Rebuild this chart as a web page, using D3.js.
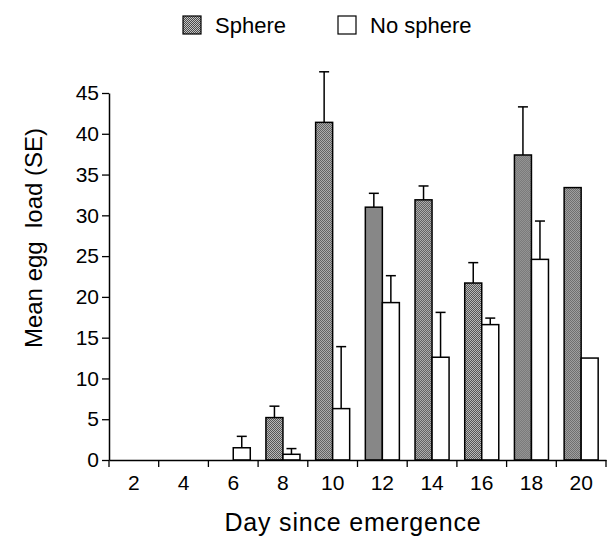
<!DOCTYPE html>
<html>
<head>
<meta charset="utf-8">
<style>
body { margin: 0; background: #fff; }
svg { font-family: "Liberation Sans", Arial, Helvetica, sans-serif; }
.axis .domain { stroke: #000; stroke-width: 1.5; }
.axis line { stroke: #000; stroke-width: 1.3; }
.axis text { font-size: 21px; fill: #000; }
</style>
</head>
<body>
<svg width="611" height="544"></svg>
<script src="https://cdn.jsdelivr.net/npm/d3@7"></script>
<script>

var days = ["2", "4", "6", "8", "10", "12", "14", "16", "18", "20"];
var series = ["Sphere", "No sphere"];
var sphereMean = [0, 0, 0, 5.2, 41.4, 31.0, 31.9, 21.7, 37.4, 33.4];
var sphereSE   = [0, 0, 0, 1.4, 6.2, 1.7, 1.7, 2.5, 5.9, 0];
var noSphereMean = [0, 0, 1.5, 0.7, 6.3, 19.3, 12.6, 16.6, 24.6, 12.5];
var noSphereSE   = [0, 0, 1.4, 0.7, 7.6, 3.3, 5.5, 0.8, 4.7, 0];
var yTicks = [0, 5, 10, 15, 20, 25, 30, 35, 40, 45];

var svg = d3.select("svg");

var defs = svg.append("defs");
var pat = defs.append("pattern")
    .attr("id", "stipple")
    .attr("patternUnits", "userSpaceOnUse")
    .attr("width", 2)
    .attr("height", 2);
pat.append("rect").attr("width", 2).attr("height", 2).attr("fill", "#c4c4c4");
pat.append("rect").attr("width", 1).attr("height", 1).attr("fill", "#4a4a4a");
pat.append("rect").attr("x", 1).attr("y", 1).attr("width", 1).attr("height", 1).attr("fill", "#4a4a4a");

var fills = {"Sphere": "url(#stipple)", "No sphere": "#fff"};

var data = days.map(function(d, i) {
  return {day: d, values: [
    {key: "Sphere", mean: sphereMean[i], se: sphereSE[i]},
    {key: "No sphere", mean: noSphereMean[i], se: noSphereSE[i]}
  ]};
});

var x0 = d3.scaleBand()
    .domain(days)
    .range([109, 606])
    .paddingInner(0)
    .paddingOuter(0);

var x1 = d3.scaleBand()
    .domain(series)
    .range([0, x0.bandwidth()])
    .paddingInner(0)
    .paddingOuter(0.46);

var y = d3.scaleLinear()
    .domain([0, 45])
    .range([460, 93]);

// bars
var groups = svg.append("g")
  .selectAll("g")
  .data(data)
  .enter().append("g")
    .attr("transform", function(d) { return "translate(" + x0(d.day) + ",0)"; });

groups.selectAll("rect")
  .data(function(d) { return d.values.filter(function(v) { return v.mean > 0; }); })
  .enter().append("rect")
    .attr("x", function(d) { return x1(d.key); })
    .attr("y", function(d) { return y(d.mean); })
    .attr("width", x1.bandwidth())
    .attr("height", function(d) { return y(0) - y(d.mean); })
    .attr("fill", function(d) { return fills[d.key]; })
    .attr("stroke", "#000")
    .attr("stroke-width", 1.5);

// error bars (upper only)
var err = groups.selectAll(".err")
  .data(function(d) { return d.values.filter(function(v) { return v.se > 0; }); })
  .enter().append("g")
    .attr("class", "err")
    .attr("stroke", "#000")
    .attr("stroke-width", 1.5);

err.append("line")
    .attr("x1", function(d) { return x1(d.key) + x1.bandwidth() / 2; })
    .attr("x2", function(d) { return x1(d.key) + x1.bandwidth() / 2; })
    .attr("y1", function(d) { return y(d.mean); })
    .attr("y2", function(d) { return y(d.mean + d.se); });

err.append("line")
    .attr("x1", function(d) { return x1(d.key) + x1.bandwidth() / 2 - 5; })
    .attr("x2", function(d) { return x1(d.key) + x1.bandwidth() / 2 + 5; })
    .attr("y1", function(d) { return y(d.mean + d.se); })
    .attr("y2", function(d) { return y(d.mean + d.se); });

// y axis
svg.append("g")
    .attr("class", "axis")
    .attr("transform", "translate(109,0)")
    .call(d3.axisLeft(y).tickValues(yTicks).tickSize(7).tickSizeOuter(0).tickPadding(3));

// x axis: labels at band centres, ticks at band edges
var xAxis = svg.append("g")
    .attr("class", "axis")
    .attr("transform", "translate(0,460)")
    .call(d3.axisBottom(x0).tickSize(0).tickSizeOuter(0).tickPadding(15));

var edges = days.map(function(d) { return x0(d); }).concat([x0.range()[1]]);
xAxis.selectAll(".edge")
  .data(edges)
  .enter().append("line")
    .attr("class", "edge")
    .attr("x1", function(d) { return d; })
    .attr("x2", function(d) { return d; })
    .attr("y1", 0)
    .attr("y2", 7);

// axis titles
svg.append("text")
    .attr("x", 353)
    .attr("y", 531)
    .attr("text-anchor", "middle")
    .attr("font-size", 25)
    .attr("letter-spacing", 0.8)
    .text("Day since emergence");

svg.append("text")
    .attr("transform", "translate(42,238) rotate(-90)")
    .attr("text-anchor", "middle")
    .attr("font-size", 24)
    .attr("xml:space", "preserve")
    .style("white-space", "pre")
    .text("Mean egg  load (SE)");

// legend
var legendX = d3.scaleOrdinal().domain(series).range([183, 338]);
var legend = svg.append("g")
  .selectAll("g")
  .data(series)
  .enter().append("g")
    .attr("transform", function(d) { return "translate(" + legendX(d) + ",16)"; });

legend.append("rect")
    .attr("width", 18)
    .attr("height", 18)
    .attr("fill", function(d) { return fills[d]; })
    .attr("stroke", "#000")
    .attr("stroke-width", 1.2);

legend.append("text")
    .attr("x", 32)
    .attr("y", 17)
    .attr("font-size", 22)
    .text(function(d) { return d; });

</script>
</body>
</html>
